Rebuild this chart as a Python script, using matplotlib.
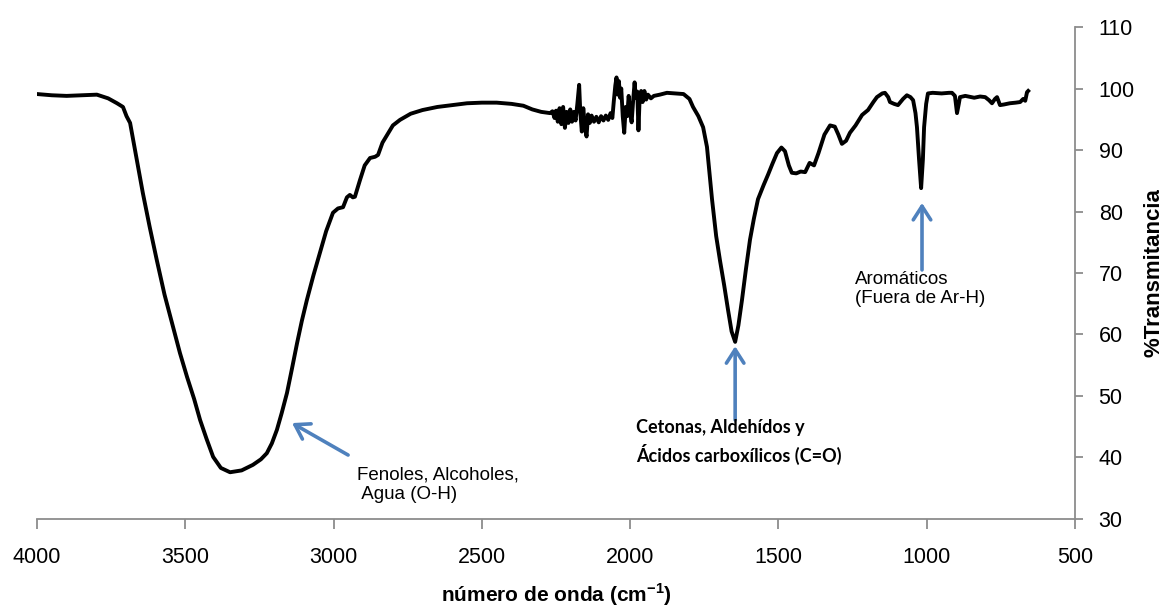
import matplotlib.pyplot as plt

# IR spectrum: wavenumber (cm-1) and % transmittance
wavenumber = [
    4000, 3950, 3900, 3850, 3798, 3760, 3730, 3710, 3698, 3686, 3675, 3663,
    3643, 3620, 3596, 3570, 3541, 3518, 3494, 3470, 3450, 3428, 3406, 3380,
    3349, 3310, 3272, 3245, 3225, 3208, 3191, 3175, 3157, 3140, 3123, 3107,
    3090, 3068, 3046, 3025, 3002, 2985, 2968, 2955, 2945, 2935, 2928, 2911,
    2895, 2877, 2860, 2850, 2835, 2820, 2800, 2776, 2740, 2700, 2650, 2600,
    2550, 2500, 2450, 2400, 2360, 2330, 2300, 2270,
    2262, 2255, 2250, 2244, 2238, 2232, 2226, 2220, 2214, 2208, 2202, 2196,
    2190, 2184, 2178, 2172, 2168, 2163, 2158, 2152, 2147, 2142, 2136, 2130,
    2122, 2114, 2106, 2098, 2090, 2082, 2074, 2066, 2060, 2055, 2050, 2046,
    2042, 2038, 2034, 2030, 2025, 2020, 2015, 2010, 2005, 2000, 1995, 1990,
    1985, 1981, 1976, 1972, 1968, 1963, 1958, 1952, 1946, 1940, 1930, 1920,
    1900, 1876, 1850, 1820, 1800, 1788, 1770, 1754, 1741, 1724, 1710, 1697,
    1683, 1670, 1658, 1646, 1635, 1623, 1610, 1596, 1583, 1569, 1550, 1535,
    1520, 1505, 1490, 1478, 1465, 1455, 1440, 1425, 1410, 1395, 1380, 1365,
    1345, 1326, 1310, 1298, 1286, 1272, 1259, 1240, 1218, 1198, 1180, 1168,
    1150, 1141, 1130, 1124, 1110, 1097, 1080, 1067, 1055, 1046, 1038, 1033,
    1026, 1019, 1013, 1009, 1002, 996, 980, 950, 925, 915, 905, 898,
    892, 888, 870, 840, 820, 803, 790, 780, 770, 763, 753, 740,
    720, 700, 685, 675, 668, 662, 658,
]
transmittance = [
    99.1, 98.9, 98.8, 98.9, 99.0, 98.4, 97.6, 97.0, 95.5, 94.4, 91.5, 88.4,
    83.0, 77.5, 72.1, 66.5, 61.2, 57.0, 53.1, 49.5, 46.1, 43.0, 40.1, 38.3,
    37.6, 37.9, 38.8, 39.7, 40.7, 42.3, 44.5, 47.2, 50.5, 54.5, 58.6, 62.2,
    65.6, 69.6, 73.3, 76.8, 79.8, 80.5, 80.7, 82.3, 82.7, 82.3, 82.4, 85.1,
    87.5, 88.7, 88.9, 89.2, 91.2, 92.4, 94.0, 94.9, 95.9, 96.5, 97.0, 97.3,
    97.6, 97.7, 97.7, 97.5, 97.2, 96.6, 96.2, 96.0,
    96.3, 95.2, 96.4, 94.6, 96.8, 94.2, 97.0, 93.6, 96.2, 94.4, 96.6, 94.6,
    96.2, 94.8, 97.5, 100.6, 96.0, 93.0, 96.8, 93.5, 92.2, 95.8, 94.4, 95.6,
    94.6, 95.4, 94.5, 95.5, 94.8, 95.6, 94.9, 96.0, 95.2, 98.0, 100.5, 101.8,
    99.0, 101.2, 98.5, 100.0, 95.5, 92.8, 97.0, 95.5, 98.8, 96.0, 94.5, 98.0,
    101.0, 98.5, 99.5, 93.2, 98.5, 99.6, 97.8, 99.6, 98.2, 99.0, 98.4, 98.8,
    99.0, 99.3, 99.2, 99.1, 98.3, 97.0, 95.5, 93.7, 90.5, 82.0, 76.0, 72.0,
    68.0, 64.0, 60.5, 58.8, 61.5, 65.6, 70.5, 75.4, 78.8, 82.0, 84.3, 86.0,
    87.8, 89.5, 90.4, 89.8, 87.5, 86.3, 86.2, 86.5, 86.4, 87.9, 87.5, 89.5,
    92.5, 94.0, 93.8, 92.5, 91.0, 91.5, 92.8, 94.0, 95.7, 96.5, 97.8, 98.6,
    99.2, 99.3, 98.6, 97.8, 97.5, 97.3, 98.3, 98.9, 98.6, 98.1, 96.0, 93.7,
    88.5, 83.8, 88.5, 93.7, 97.5, 99.2, 99.3, 99.2, 99.3, 99.3, 98.8, 96.0,
    97.5, 98.6, 98.8, 98.5, 98.7, 98.6, 98.1, 97.6, 98.3, 98.6, 97.3, 97.4,
    97.6, 97.7, 97.8, 98.3, 98.0, 99.4, 99.6,
]

x_ticks = [4000, 3500, 3000, 2500, 2000, 1500, 1000, 500]
y_ticks = [30, 40, 50, 60, 70, 80, 90, 100, 110]

plt.rcParams['font.family'] = ['Liberation Sans', 'DejaVu Sans']
plt.rcParams['mathtext.fontset'] = 'custom'
plt.rcParams['mathtext.bf'] = 'Liberation Sans:bold'
plt.rcParams['mathtext.rm'] = 'Liberation Sans:bold'

fig = plt.figure(figsize=(11.66, 6.07), dpi=100)
ax = fig.add_axes([0.0317, 0.145, 0.8903, 0.8105])

ax.plot(wavenumber, transmittance, color='black', lw=2.8, solid_joinstyle='round')

ax.set_xlim(4000, 500)
ax.set_ylim(30, 110)
ax.set_xticks(x_ticks)
ax.set_yticks(y_ticks)

for side in ['top', 'left']:
    ax.spines[side].set_visible(False)
for side in ['bottom', 'right']:
    ax.spines[side].set_color('#8c8c8c')
    ax.spines[side].set_linewidth(1.3)

ax.yaxis.tick_right()
ax.yaxis.set_label_position('right')
ax.tick_params(axis='x', direction='out', length=7, width=1.3, color='#8c8c8c',
               labelsize=15.5, pad=13)
ax.tick_params(axis='y', direction='out', length=6, width=1.3, color='#8c8c8c',
               labelsize=15.5, pad=11)

ax.set_xlabel(r'número de onda (cm$^{-1}$)', fontsize=15, fontweight='bold',
              labelpad=10)
ax.set_ylabel('%Transmitancia', fontsize=16, fontweight='bold')
ax.yaxis.set_label_coords(1.066, 0.5)

arrow = dict(arrowstyle='->,head_length=0.7,head_width=0.45', color='#4f81bd',
             lw=2.6, shrinkA=0, shrinkB=0, mutation_scale=14)

ax.annotate('', xy=(3140, 45.6), xytext=(2951, 40.4), arrowprops=arrow)
ax.annotate('', xy=(1646, 58.1), xytext=(1646, 46.1), arrowprops=arrow)
ax.annotate('', xy=(1016, 81.4), xytext=(1016, 70.5), arrowprops=arrow)

ax.text(2921, 38.6, 'Fenoles, Alcoholes,\n Agua (O-H)', ha='left', va='top',
        fontsize=13.5, linespacing=1.2)
ax.text(1980, 46.2, 'Cetonas, Aldehídos y\nÁcidos carboxílicos (C=O)', ha='left',
        va='top', fontsize=13, fontweight='bold', linespacing=1.45,
        family=['Lato', 'Open Sans', 'DejaVu Sans'])
ax.text(1242, 70.4, 'Aromáticos\n(Fuera de Ar-H)', ha='left', va='top',
        fontsize=13.5, linespacing=1.2)

fig.savefig('out.png', dpi=100)
